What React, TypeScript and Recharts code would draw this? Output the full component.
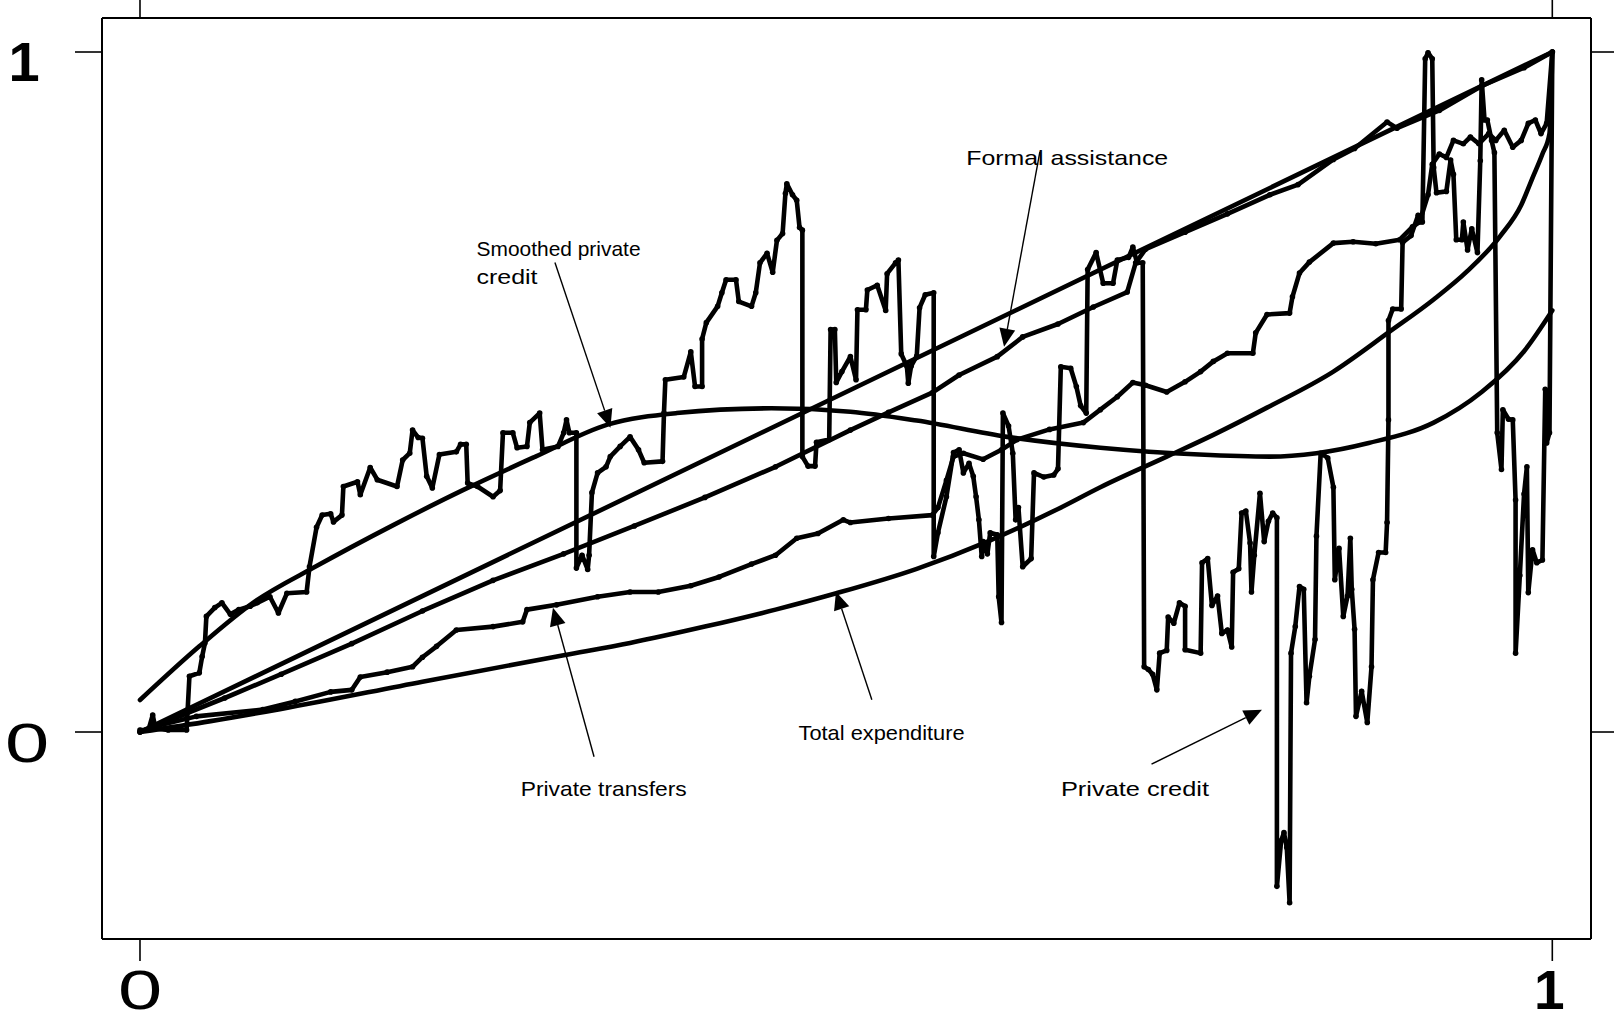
import { LineChart, Line, XAxis, YAxis, ReferenceLine, ReferenceDot } from 'recharts';

// Concentration curves: share of each flow vs. expenditure percentile.
const ticks = [0, 1];

const equality: [number, number][] = [[0, 0], [1, 1]];

const totalExpenditure: [number, number][] = [
  [0, 0], [0.05, 0.016], [0.1, 0.034], [0.2, 0.074], [0.3, 0.113], [0.347, 0.131], [0.4, 0.155],
  [0.45, 0.18], [0.493, 0.204], [0.55, 0.24], [0.6, 0.28], [0.65, 0.328], [0.68, 0.36],
  [0.727, 0.405], [0.76, 0.437], [0.798, 0.477], [0.845, 0.53], [0.885, 0.589], [0.916, 0.636],
  [0.94, 0.678], [0.963, 0.729], [0.978, 0.775], [0.986, 0.815], [0.993, 0.85], [0.998, 0.88],
  [1, 1],
];

const smoothedCredit: [number, number][] = [
  [0, 0.047], [0.042, 0.126], [0.08, 0.19], [0.125, 0.244], [0.18, 0.305], [0.229, 0.356],
  [0.28, 0.405], [0.331, 0.452], [0.38, 0.469], [0.447, 0.476], [0.503, 0.471], [0.55, 0.458],
  [0.614, 0.434], [0.68, 0.418], [0.75, 0.408], [0.8, 0.405], [0.833, 0.41], [0.87, 0.425],
  [0.916, 0.455], [0.95, 0.5], [0.98, 0.56], [1, 0.62],
];

const formalAssistance: [number, number][] = [
  [0, 0], [0.03, 0.025], [0.06, 0.05], [0.1, 0.085], [0.15, 0.13], [0.2, 0.178], [0.25, 0.223],
  [0.3, 0.262], [0.35, 0.303], [0.4, 0.345], [0.45, 0.39], [0.503, 0.444], [0.53, 0.47],
  [0.561, 0.499], [0.58, 0.525], [0.607, 0.552], [0.625, 0.581], [0.65, 0.6], [0.675, 0.625],
  [0.699, 0.647], [0.705, 0.69], [0.712, 0.71], [0.74, 0.735], [0.77, 0.762], [0.8, 0.79],
  [0.82, 0.805], [0.845, 0.842], [0.86, 0.858], [0.883, 0.897], [0.89, 0.888], [0.92, 0.914],
  [0.95, 0.95], [0.98, 0.977], [1, 1],
];

const privateTransfers: [number, number][] = [
  [0, 0], [0.01, 0.008], [0.04, 0.023], [0.087, 0.033], [0.11, 0.045], [0.135, 0.059],
  [0.15, 0.062], [0.156, 0.081], [0.175, 0.088], [0.193, 0.096], [0.2, 0.11], [0.21, 0.126],
  [0.224, 0.15], [0.25, 0.155], [0.271, 0.162], [0.274, 0.18], [0.295, 0.187], [0.324, 0.199],
  [0.347, 0.206], [0.367, 0.206], [0.39, 0.215], [0.41, 0.228], [0.433, 0.247], [0.45, 0.26],
  [0.465, 0.285], [0.48, 0.292], [0.498, 0.312], [0.503, 0.308], [0.53, 0.314], [0.561, 0.319],
  [0.565, 0.33], [0.571, 0.37], [0.576, 0.405], [0.583, 0.41], [0.597, 0.401], [0.61, 0.415],
  [0.621, 0.43], [0.644, 0.445], [0.668, 0.455], [0.68, 0.474], [0.692, 0.493], [0.703, 0.514],
  [0.712, 0.51], [0.727, 0.5], [0.74, 0.515], [0.751, 0.53], [0.76, 0.545], [0.77, 0.557],
  [0.788, 0.557], [0.79, 0.587], [0.798, 0.614], [0.814, 0.616], [0.816, 0.64], [0.821, 0.675],
  [0.828, 0.691], [0.845, 0.719], [0.859, 0.721], [0.875, 0.718], [0.892, 0.724], [0.901, 0.743],
  [0.906, 0.75], [0.912, 0.79], [0.915, 0.835], [0.92, 0.85], [0.925, 0.845], [0.93, 0.87],
  [0.937, 0.865], [0.942, 0.875], [0.948, 0.865], [0.955, 0.88], [0.96, 0.87], [0.966, 0.885],
  [0.972, 0.86], [0.978, 0.87], [0.983, 0.895], [0.988, 0.9], [0.992, 0.88], [0.996, 0.895],
  [1, 1],
];

const privateCredit: [number, number][] = [
  [0, 0.003], [0.006, 0.003], [0.009, 0.025], [0.011, 0.005], [0.02, 0.003], [0.033, 0.003],
  [0.035, 0.082], [0.042, 0.087], [0.044, 0.111], [0.046, 0.131], [0.047, 0.17], [0.053, 0.183],
  [0.058, 0.19], [0.064, 0.173], [0.07, 0.18], [0.078, 0.185], [0.083, 0.19], [0.092, 0.199],
  [0.098, 0.175], [0.104, 0.204], [0.118, 0.206], [0.12, 0.243], [0.125, 0.301], [0.129, 0.319],
  [0.135, 0.321], [0.137, 0.309], [0.143, 0.319], [0.144, 0.361], [0.154, 0.368], [0.156, 0.349],
  [0.163, 0.389], [0.168, 0.371], [0.182, 0.361], [0.186, 0.4], [0.191, 0.41], [0.193, 0.444],
  [0.197, 0.433], [0.2, 0.432], [0.203, 0.376], [0.207, 0.359], [0.212, 0.408], [0.224, 0.412],
  [0.227, 0.423], [0.231, 0.423], [0.232, 0.366], [0.239, 0.361], [0.25, 0.346], [0.255, 0.355],
  [0.257, 0.44], [0.264, 0.44], [0.267, 0.418], [0.274, 0.42], [0.276, 0.455], [0.283, 0.469],
  [0.285, 0.415], [0.296, 0.42], [0.3, 0.44], [0.302, 0.459], [0.304, 0.44], [0.309, 0.44],
  [0.309, 0.241], [0.313, 0.26], [0.317, 0.239], [0.318, 0.26], [0.32, 0.352], [0.324, 0.381],
  [0.33, 0.39], [0.333, 0.405], [0.34, 0.42], [0.347, 0.434], [0.353, 0.415], [0.357, 0.396],
  [0.37, 0.398], [0.371, 0.469], [0.372, 0.518], [0.385, 0.522], [0.39, 0.559], [0.393, 0.508],
  [0.398, 0.508], [0.398, 0.578], [0.401, 0.602], [0.409, 0.626], [0.412, 0.646], [0.415, 0.665],
  [0.422, 0.665], [0.424, 0.633], [0.433, 0.626], [0.436, 0.646], [0.439, 0.69], [0.444, 0.704],
  [0.448, 0.676], [0.451, 0.723], [0.455, 0.733], [0.457, 0.792], [0.458, 0.806], [0.462, 0.79],
  [0.465, 0.782], [0.467, 0.742], [0.469, 0.738], [0.469, 0.405], [0.473, 0.391], [0.478, 0.391],
  [0.479, 0.426], [0.488, 0.43], [0.489, 0.592], [0.492, 0.592], [0.493, 0.514], [0.497, 0.53],
  [0.503, 0.552], [0.507, 0.518], [0.508, 0.621], [0.514, 0.621], [0.515, 0.65], [0.522, 0.657],
  [0.528, 0.62], [0.529, 0.674], [0.535, 0.69], [0.537, 0.694], [0.539, 0.556], [0.543, 0.538],
  [0.544, 0.513], [0.546, 0.538], [0.55, 0.553], [0.552, 0.624], [0.556, 0.643], [0.562, 0.646],
  [0.562, 0.258], [0.565, 0.293], [0.571, 0.346], [0.576, 0.411], [0.58, 0.415], [0.583, 0.381],
  [0.587, 0.395], [0.59, 0.376], [0.592, 0.346], [0.594, 0.312], [0.596, 0.258], [0.597, 0.28],
  [0.6, 0.262], [0.602, 0.293], [0.607, 0.29], [0.608, 0.199], [0.61, 0.161], [0.611, 0.469],
  [0.615, 0.45], [0.618, 0.41], [0.62, 0.312], [0.622, 0.33], [0.625, 0.243], [0.631, 0.255],
  [0.633, 0.381], [0.64, 0.375], [0.647, 0.378], [0.65, 0.387], [0.652, 0.537], [0.659, 0.535],
  [0.663, 0.508], [0.666, 0.48], [0.67, 0.469], [0.671, 0.68], [0.677, 0.705], [0.682, 0.66],
  [0.689, 0.66], [0.692, 0.694], [0.7, 0.698], [0.703, 0.713], [0.706, 0.69], [0.71, 0.69],
  [0.711, 0.096], [0.714, 0.092], [0.717, 0.085], [0.72, 0.062], [0.722, 0.116], [0.727, 0.12],
  [0.728, 0.169], [0.732, 0.16], [0.736, 0.19], [0.74, 0.185], [0.74, 0.121], [0.751, 0.116],
  [0.752, 0.249], [0.756, 0.255], [0.759, 0.186], [0.763, 0.2], [0.766, 0.145], [0.77, 0.15],
  [0.773, 0.125], [0.774, 0.235], [0.778, 0.24], [0.78, 0.322], [0.783, 0.325], [0.786, 0.278],
  [0.787, 0.206], [0.789, 0.26], [0.793, 0.351], [0.796, 0.28], [0.799, 0.31], [0.802, 0.322],
  [0.805, 0.315], [0.805, -0.227], [0.808, -0.16], [0.81, -0.148], [0.812, -0.17], [0.814, -0.251],
  [0.815, 0.116], [0.818, 0.155], [0.821, 0.214], [0.824, 0.21], [0.826, 0.043], [0.828, 0.082],
  [0.832, 0.136], [0.833, 0.288], [0.836, 0.41], [0.841, 0.403], [0.845, 0.36], [0.846, 0.224],
  [0.849, 0.27], [0.852, 0.17], [0.855, 0.2], [0.857, 0.285], [0.858, 0.21], [0.86, 0.151],
  [0.861, 0.023], [0.865, 0.06], [0.869, 0.014], [0.872, 0.096], [0.873, 0.224], [0.877, 0.264],
  [0.882, 0.264], [0.883, 0.308], [0.884, 0.459], [0.884, 0.605], [0.887, 0.622], [0.893, 0.622],
  [0.894, 0.72], [0.9, 0.73], [0.905, 0.76], [0.908, 0.75], [0.91, 0.99], [0.912, 0.999],
  [0.915, 0.99], [0.916, 0.83], [0.918, 0.793], [0.925, 0.795], [0.928, 0.841], [0.93, 0.82],
  [0.932, 0.724], [0.936, 0.724], [0.937, 0.75], [0.94, 0.709], [0.943, 0.74], [0.947, 0.705],
  [0.949, 0.84], [0.95, 0.959], [0.952, 0.9], [0.954, 0.9], [0.957, 0.87], [0.959, 0.852],
  [0.961, 0.44], [0.964, 0.386], [0.965, 0.474], [0.969, 0.46], [0.972, 0.459], [0.974, 0.341],
  [0.974, 0.116], [0.977, 0.23], [0.98, 0.35], [0.982, 0.39], [0.983, 0.205], [0.986, 0.268],
  [0.989, 0.249], [0.993, 0.253], [0.995, 0.504], [0.996, 0.425], [0.998, 0.44], [1, 1],
];

// Callouts: label anchor, arrow tail and arrow tip, all in data units.
type Note = { lines: string[]; at: [number, number]; widths: number[]; tail: [number, number]; tip: [number, number] };
const notes: Note[] = [
  { lines: ['Smoothed private', 'credit'], at: [0.2383, 0.7004], widths: [164, 61], tail: [0.2938, 0.6904], tip: [0.3331, 0.4475] },
  { lines: ['Formal assistance'], at: [0.585, 0.8343], widths: [202], tail: [0.6372, 0.8534], tip: [0.6118, 0.5666] },
  { lines: ['Private transfers'], at: [0.2696, -0.0947], widths: [166], tail: [0.3215, -0.0363], tip: [0.2924, 0.1828] },
  { lines: ['Total expenditure'], at: [0.4663, -0.0124], widths: [166], tail: [0.5182, 0.0475], tip: [0.4928, 0.2063] },
  { lines: ['Private credit'], at: [0.6521, -0.0947], widths: [148], tail: [0.7162, -0.0474], tip: [0.7944, 0.0328] },
];

const toRows = (pts: [number, number][]) => pts.map(([x, y]) => ({ x, y }));

const FONT = '"Liberation Sans", Arial, sans-serif';

const ArrowShape = (p: any) => {
  const { x1, y1, x2, y2 } = p;
  const a = Math.atan2(y2 - y1, x2 - x1);
  const len = 18;
  const half = 8;
  const bx = x2 - len * Math.cos(a);
  const by = y2 - len * Math.sin(a);
  const nx = -Math.sin(a) * half;
  const ny = Math.cos(a) * half;
  return (
    <g>
      <line x1={x1} y1={y1} x2={bx} y2={by} stroke="#000" strokeWidth={1.4} />
      <polygon points={`${x2},${y2} ${bx + nx},${by + ny} ${bx - nx},${by - ny}`} fill="#000" />
    </g>
  );
};

const NoteText = (lines: string[], widths: number[]) => (p: any) => (
  <g>
    {lines.map((t, i) => (
      <text
        key={t}
        x={p.cx}
        y={p.cy + i * 28}
        fontFamily={FONT}
        fontSize={21}
        fill="#000"
        textLength={widths[i]}
        lengthAdjust="spacingAndGlyphs"
      >
        {t}
      </text>
    ))}
  </g>
);

const BottomTick = (p: any) => {
  const { x, y, payload } = p;
  if (payload.value === 0) {
    return (
      <text transform={`translate(${x},${y + 48}) scale(1.5,1.04)`} textAnchor="middle" fontFamily={FONT} fontSize={53}>
        0
      </text>
    );
  }
  return (
    <text x={x - 3} y={y + 48} textAnchor="middle" fontFamily={FONT} fontWeight="bold" fontSize={55}>
      1
    </text>
  );
};

const LeftTick = (p: any) => {
  const { x, y, payload } = p;
  if (payload.value === 0) {
    return (
      <text transform={`translate(${x - 48},${y + 30}) scale(1.5,1.04)`} textAnchor="middle" fontFamily={FONT} fontSize={53}>
        0
      </text>
    );
  }
  return (
    <text x={x - 51} y={y + 29} textAnchor="middle" fontFamily={FONT} fontWeight="bold" fontSize={56}>
      1
    </text>
  );
};

const Empty = () => <g />;

const lineStyle = { stroke: '#000', strokeWidth: 4.6, strokeLinejoin: 'round' as const, strokeLinecap: 'round' as const };
const beads = { r: 2.8, fill: '#000', stroke: 'none' };

export default function App() {
  return (
    <div style={{ position: 'absolute', left: 0, top: 0, background: '#fff' }}>
      <LineChart width={1614} height={1021} margin={{ top: 0, right: 0, bottom: 0, left: 0 }}>
        <XAxis
          xAxisId="b"
          dataKey="x"
          type="number"
          domain={[-0.0269, 1.0274]}
          allowDataOverflow
          ticks={ticks}
          height={82}
          tickSize={22}
          tickMargin={0}
          stroke="#000"
          axisLine={{ stroke: '#000', strokeWidth: 2 }}
          tickLine={{ stroke: '#000', strokeWidth: 1.6 }}
          tick={BottomTick}
        />
        <XAxis
          xAxisId="t"
          orientation="top"
          dataKey="x"
          type="number"
          domain={[-0.0269, 1.0274]}
          allowDataOverflow
          ticks={ticks}
          height={18}
          tickSize={18}
          axisLine={{ stroke: '#000', strokeWidth: 2 }}
          tickLine={{ stroke: '#000', strokeWidth: 1.6 }}
          tick={Empty}
        />
        <YAxis
          yAxisId="l"
          type="number"
          domain={[-0.3044, 1.05]}
          allowDataOverflow
          ticks={ticks}
          width={102}
          tickSize={27}
          tickMargin={0}
          axisLine={{ stroke: '#000', strokeWidth: 2 }}
          tickLine={{ stroke: '#000', strokeWidth: 1.6 }}
          tick={LeftTick}
        />
        <YAxis
          yAxisId="r"
          orientation="right"
          type="number"
          domain={[-0.3044, 1.05]}
          allowDataOverflow
          ticks={ticks}
          width={23}
          tickSize={23}
          axisLine={{ stroke: '#000', strokeWidth: 2 }}
          tickLine={{ stroke: '#000', strokeWidth: 1.6 }}
          tick={Empty}
        />

        <Line xAxisId="b" yAxisId="l" data={toRows(equality)} dataKey="y" type="linear" {...lineStyle} dot={false} isAnimationActive={false} />
        <Line xAxisId="b" yAxisId="l" data={toRows(totalExpenditure)} dataKey="y" type="monotone" {...lineStyle} dot={false} isAnimationActive={false} />
        <Line xAxisId="b" yAxisId="l" data={toRows(smoothedCredit)} dataKey="y" type="monotone" {...lineStyle} dot={false} isAnimationActive={false} />
        <Line xAxisId="b" yAxisId="l" data={toRows(formalAssistance)} dataKey="y" type="linear" {...lineStyle} dot={beads} isAnimationActive={false} />
        <Line xAxisId="b" yAxisId="l" data={toRows(privateTransfers)} dataKey="y" type="linear" {...lineStyle} dot={beads} isAnimationActive={false} />
        <Line xAxisId="b" yAxisId="l" data={toRows(privateCredit)} dataKey="y" type="linear" {...lineStyle} dot={beads} isAnimationActive={false} />

        {notes.map((n) => (
          <ReferenceLine
            key={`a-${n.lines[0]}`}
            xAxisId="b"
            yAxisId="l"
            segment={[{ x: n.tail[0], y: n.tail[1] }, { x: n.tip[0], y: n.tip[1] }]}
            shape={ArrowShape}
          />
        ))}
        {notes.map((n) => (
          <ReferenceDot
            key={`t-${n.lines[0]}`}
            xAxisId="b"
            yAxisId="l"
            x={n.at[0]}
            y={n.at[1]}
            r={0}
            shape={NoteText(n.lines, n.widths)}
          />
        ))}
      </LineChart>
    </div>
  );
}
